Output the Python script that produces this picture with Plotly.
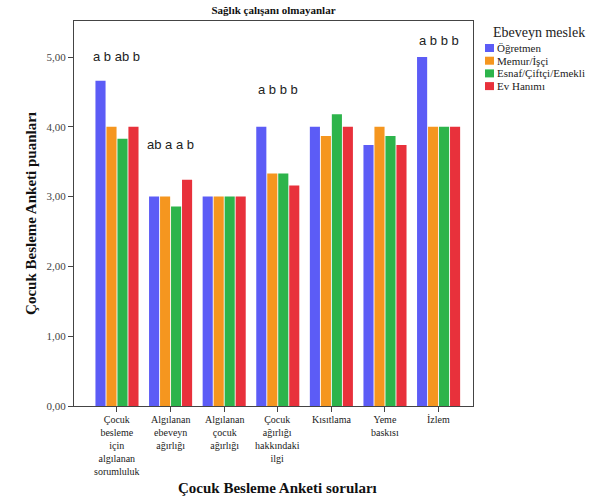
import plotly.graph_objects as go

# Survey question categories (x axis)
questions = [
    "Çocuk<br>besleme<br>için<br>algılanan<br>sorumluluk",
    "Algılanan<br>ebeveyn<br>ağırlığı",
    "Algılanan<br>çocuk<br>ağırlığı",
    "Çocuk<br>ağırlığı<br>hakkındaki<br>ilgi",
    "Kısıtlama",
    "Yeme<br>baskısı",
    "İzlem",
]

# Parent occupation groups
groups = ["Öğretmen", "Memur/İşçi", "Esnaf/Çiftçi/Emekli", "Ev Hanımı"]
colors = ["#5c5cf6", "#f5961f", "#2db44b", "#e8313b"]

# Mean scores per group
ogretmen = [4.66, 3.00, 3.00, 4.00, 4.00, 3.74, 5.00]
memur = [4.00, 3.00, 3.00, 3.33, 3.87, 4.00, 4.00]
esnaf = [3.83, 2.86, 3.00, 3.33, 4.18, 3.87, 4.00]
ev_hanimi = [4.00, 3.24, 3.00, 3.16, 4.00, 3.74, 4.00]
series = [ogretmen, memur, esnaf, ev_hanimi]

# Significance letters above selected questions
letter_idx = [0, 1, 3, 6]
letter_text = ["a b ab b", "ab a a b", "a b b b", "a b b b"]
letter_y = [5.01, 3.74, 4.53, 5.23]

x_pos = list(range(len(questions)))

W, H = 608, 500
ML, MR, MT, MB = 74, 135, 21, 94
PW, PH = W - ML - MR, H - MT - MB
serif = "Liberation Serif"


def px_x(px):
    return (px - ML) / PW


def px_y(py):
    return (H - MB - py) / PH


fig = go.Figure()
for name, vals, col in zip(groups, series, colors):
    fig.add_trace(go.Bar(
        x=x_pos, y=vals, name=name, showlegend=False,
        marker=dict(color=col, line=dict(width=0)),
    ))

for i, t, yv in zip(letter_idx, letter_text, letter_y):
    fig.add_annotation(
        x=i, y=yv, text=t, showarrow=False, xref="x", yref="y",
        font=dict(family="Liberation Sans", size=13, color="#222"),
        xanchor="center", yanchor="middle",
    )

# Category labels under each tick
for i, label in enumerate(questions):
    fig.add_annotation(
        x=i, y=px_y(413), xref="x", yref="paper",
        text=label, showarrow=False, xanchor="center", yanchor="top",
        align="center", borderpad=0,
        font=dict(family=serif, size=10, color="#222"),
    )

# Legend block
fig.add_annotation(
    x=px_x(492), y=px_y(32), xref="paper", yref="paper",
    text="Ebeveyn meslek", showarrow=False, xanchor="left", yanchor="middle",
    borderpad=0,
    font=dict(family=serif, size=14, color="#222"),
)
for j, (name, col) in enumerate(zip(groups, colors)):
    cy = 48 + 12.7 * j
    fig.add_shape(
        type="rect", xref="paper", yref="paper",
        x0=px_x(485), x1=px_x(494), y0=px_y(cy + 4), y1=px_y(cy - 4),
        fillcolor=col, line=dict(width=0),
    )
    fig.add_annotation(
        x=px_x(496), y=px_y(cy), xref="paper", yref="paper",
        text=name, showarrow=False, xanchor="left", yanchor="middle",
        borderpad=0,
        font=dict(family=serif, size=11, color="#222"),
    )

fig.update_layout(
    width=W, height=H,
    paper_bgcolor="white", plot_bgcolor="white",
    margin=dict(l=ML, r=MR, t=MT, b=MB),
    barmode="group", bargap=0.18, bargroupgap=0.08,
    showlegend=False,
    title=dict(
        text="<b>Sağlık çalışanı olmayanlar</b>",
        x=273.5 / W, xanchor="center",
        y=1 - 10 / H, yanchor="middle",
        font=dict(family=serif, size=11, color="#111"),
    ),
    xaxis=dict(
        tickmode="array", tickvals=x_pos, showticklabels=False,
        range=[-0.802, 6.642], automargin=False,
        showline=True, linecolor="#444", linewidth=1, mirror=True,
        ticks="outside", ticklen=5, tickcolor="#444",
        showgrid=False, zeroline=False,
    ),
    yaxis=dict(
        range=[0, 5.516], tickmode="array", automargin=False,
        tickvals=[0, 1, 2, 3, 4, 5],
        ticktext=["0,00", "1,00", "2,00", "3,00", "4,00", "5,00"],
        showline=True, linecolor="#444", linewidth=1, mirror=True,
        ticks="outside", ticklen=5, tickcolor="#444",
        tickfont=dict(family=serif, size=11, color="#444"),
        showgrid=False, zeroline=False,
        title=dict(text="<b>Çocuk Besleme Anketi puanları</b>",
                   font=dict(family=serif, size=15, color="#111"), standoff=6),
    ),
)

# Axis title for the question categories
fig.add_annotation(
    x=px_x(277), y=px_y(488), xref="paper", yref="paper",
    text="<b>Çocuk Besleme Anketi soruları</b>", showarrow=False,
    xanchor="center", yanchor="middle",
    font=dict(family=serif, size=15, color="#111"),
)

fig.write_html("out.html")
